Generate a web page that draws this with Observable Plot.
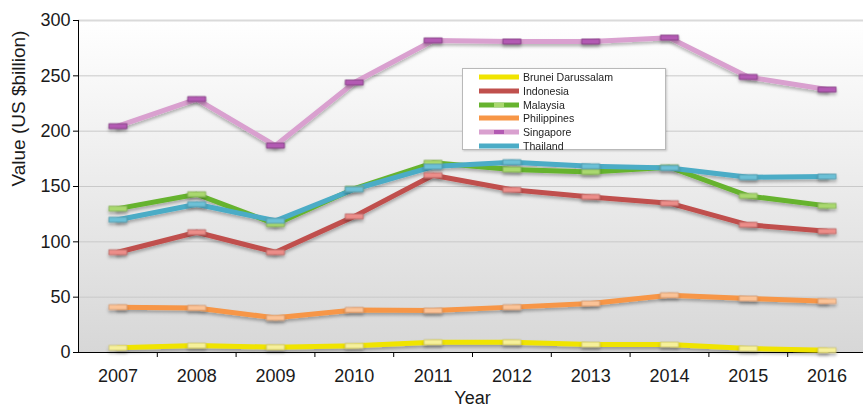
<!DOCTYPE html>
<html>
<head>
<meta charset="utf-8">
<script src="https://cdn.jsdelivr.net/npm/d3@7"></script>
<script src="https://cdn.jsdelivr.net/npm/@observablehq/plot@0.6"></script>
<style>
  body { margin: 0; background: #fff; font-family: "Liberation Sans", Arial, sans-serif; }
  #chart { position: relative; width: 863px; height: 413px; }
  #legend {
    position: absolute; left: 462px; top: 68px; width: 204px; height: 82px;
    background: #fff; border: 1px solid #b9b9b9; box-shadow: 1px 1px 2px rgba(0,0,0,0.18);
    box-sizing: border-box;
  }
  #legend .row { position: absolute; left: 16px; height: 14px; display: flex; align-items: center; }
  #legend .row span { font-size: 10.6px; color: #222; margin-left: 4px; }
</style>
</head>
<body>
<div id="chart"></div>
<script>
// Yearly values, US $ billion
const years = [2007, 2008, 2009, 2010, 2011, 2012, 2013, 2014, 2015, 2016];
const countries = ["Brunei Darussalam", "Indonesia", "Malaysia", "Philippines", "Singapore", "Thailand"];
const brunei      = [4.2, 6.3, 4.8, 6.0, 9.3, 9.3, 7.2, 7.2, 3.6, 2.1];
const indonesia   = [90.6, 108.7, 90.6, 123, 160.2, 147, 140.6, 134.9, 115.4, 109.6];
const malaysia    = [130, 143, 116, 148, 171.4, 165.3, 163.2, 167.4, 141.5, 132.5];
const philippines = [41, 40.3, 31.3, 38.5, 37.9, 41, 44.3, 51.8, 48.8, 46.4];
const singapore   = [204.5, 229, 187, 244, 282, 281, 281, 284.5, 249, 237.6];
const thailand    = [120, 134, 119, 147.5, 168, 172, 168.3, 166.8, 158.4, 159];
const yTicks = [0, 50, 100, 150, 200, 250, 300];

const series = [brunei, indonesia, malaysia, philippines, singapore, thailand];
const lineColors   = ["#f0e400", "#c0504d", "#66b32e", "#f79646", "#d9a0cf", "#4bacc6"];
const markerColors = ["#f6f09a", "#ec8d89", "#a9d86e", "#fbc397", "#b35ab3", "#6cc0d6"];
const markerStroke = ["#c9c27a", "#b56a67", "#86ad5a", "#cf9c78", "#7e3a7e", "#5798aa"];

const rows = countries.flatMap((c, i) =>
  series[i].map((v, j) => ({country: c, year: years[j], value: v, idx: i}))
);
// boundaries between year slots carry the tick marks
const boundaries = years.slice(0, -1).map(y => y + 0.5);

// flat rectangular point marker
const barSymbol = { draw(ctx) { ctx.rect(-9, -2.5, 18, 5); } };

const chart = Plot.plot({
  width: 863,
  height: 413,
  marginLeft: 78,
  marginRight: -3,
  marginTop: 20,
  marginBottom: 61,
  style: { fontFamily: "Liberation Sans, Arial, sans-serif", fontSize: "18px", color: "#1a1a1a", background: "transparent", overflow: "visible" },
  x: { domain: [2006.5, 2016.5] },
  y: { domain: [0, 300] },
  marks: [
    Plot.frame({ fill: "url(#plotBg)", stroke: null }),
    Plot.gridY({ ticks: yTicks, stroke: "#c9c9c9", strokeOpacity: 1 }),
    Plot.ruleY([300], { stroke: "#dadada", strokeWidth: 2 }),
    Plot.axisY({ ticks: yTicks, tickSize: 5, tickPadding: 3, label: null, fontSize: 18, stroke: "#000" }),
    Plot.axisX({ ticks: years, tickSize: 0, tickPadding: 17, tickFormat: d => String(d), label: null, fontSize: 18 }),
    Plot.axisX({ ticks: boundaries, tickSize: 5, tickFormat: () => "", label: null, stroke: "#000" }),
    Plot.ruleY([0], { stroke: "#000" }),
    Plot.ruleX([2006.5], { y1: 0, y2: 300, stroke: "#000" }),
    Plot.line(rows, { x: "year", y: "value", z: "country", stroke: d => lineColors[d.idx], strokeWidth: 5, strokeLinejoin: "miter" }),
    Plot.dot(rows, { x: "year", y: "value", symbol: barSymbol, r: 4, fill: d => markerColors[d.idx], stroke: d => markerStroke[d.idx], strokeWidth: 0.8 }),
    Plot.text(["Value (US $billion)"], { frameAnchor: "left", dx: -60, rotate: -90, fontSize: 19, fill: "#1a1a1a" }),
    Plot.text(["Year"], { frameAnchor: "bottom", dy: 51, fontSize: 18, fill: "#1a1a1a" })
  ]
});

// gradient background and soft shadow for the series
const svg = d3.select(chart);
const defs = svg.insert("defs", ":first-child");
const grad = defs.append("linearGradient").attr("id", "plotBg").attr("x1", 0).attr("y1", 0).attr("x2", 0).attr("y2", 1);
grad.append("stop").attr("offset", "0%").attr("stop-color", "#ffffff");
grad.append("stop").attr("offset", "100%").attr("stop-color", "#d7d7d7");
const f = defs.append("filter").attr("id", "shadow").attr("x", "-5%").attr("y", "-20%").attr("width", "110%").attr("height", "140%");
f.append("feDropShadow").attr("dx", 0).attr("dy", 2.5).attr("stdDeviation", 1.4).attr("flood-color", "#000").attr("flood-opacity", 0.28);
svg.selectAll("g[aria-label='line'], g[aria-label='dot']").attr("filter", "url(#shadow)");

const root = document.getElementById("chart");
root.appendChild(chart);

// legend box
const legend = d3.select(root).append("div").attr("id", "legend");
const showMarker = [false, false, true, false, true, false];
countries.forEach((c, i) => {
  const row = legend.append("div").attr("class", "row").style("top", (1 + i * 13.8) + "px");
  const sw = row.append("svg").attr("width", 40).attr("height", 8);
  sw.append("line").attr("x1", 0).attr("x2", 40).attr("y1", 4).attr("y2", 4)
    .attr("stroke", lineColors[i]).attr("stroke-width", 5);
  if (showMarker[i]) {
    sw.append("rect").attr("x", 15).attr("y", 2).attr("width", 10).attr("height", 4)
      .attr("fill", markerColors[i]);
  }
  row.append("span").text(c);
});
</script>
</body>
</html>
